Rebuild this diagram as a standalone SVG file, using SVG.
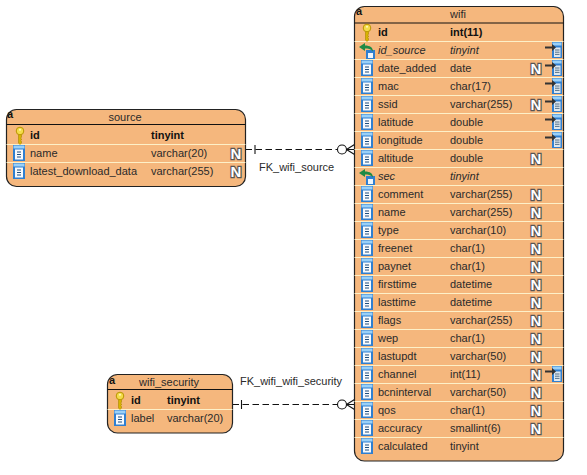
<svg xmlns="http://www.w3.org/2000/svg" width="587" height="475" viewBox="0 0 587 475">
<style>
text{font-family:"Liberation Sans",Arial,sans-serif;font-size:11px;fill:#2a2a2a}
.b{font-weight:bold;fill:#111}
.i{font-style:italic}
.t{text-anchor:middle}
.box{fill:#f5b77d;stroke:#222;stroke-width:1.2}
.hl{stroke:#111;stroke-width:1;fill:none}
.sep{stroke:#fdf0c8;stroke-width:1;fill:none}
.con{stroke:#111;stroke-width:1.1;fill:none}
.dash{stroke-dasharray:6.500 3.500}
.a{font-size:11px;font-weight:bold;fill:#111}
.nn{font-size:15px;font-weight:bold;fill:#fff;stroke:#555;stroke-width:2.400;paint-order:stroke;text-anchor:middle}
</style>
<defs>
<g id="col"><rect x="0" y="0" width="12" height="16" fill="#2f7fd0"/><rect x="0.500" y="0.500" width="11" height="3" fill="#9ad0f7"/><rect x="2" y="4.500" width="8" height="10" fill="#f7fafd"/><path d="M4 7h4M4 9.500h4M4 12h4" stroke="#1e4f80" stroke-width="1"/></g>
<g id="key"><path d="M3.500 7v9l1.500 1.500 1.500-1.500v-1.500l-1-.8 1-.8v-1l-1-.8 1-.8V7z" fill="#d9b400" stroke="#a88600" stroke-width=".6"/><circle cx="5" cy="4" r="3.800" fill="#f4dc4a" stroke="#b89500" stroke-width="1"/><circle cx="5" cy="2.800" r="1" fill="#fff8c0"/></g>
<g id="fk"><rect x="7" y="8" width="9" height="9" fill="#2f7fd0"/><rect x="9" y="11" width="5" height="5" fill="#eef5fb"/><path d="M6 1 0 5l6 4V6.500c3 0 6 .5 8 3 0-4-3-6-8-6z" fill="#1f8a45"/></g>
<g id="n"><text class="nn" x="6" y="12">N</text></g>
<g id="ref"><rect x="7" y="0" width="10" height="16" fill="#2f7fd0"/><rect x="7.500" y="0.500" width="9" height="3" fill="#9ad0f7"/><rect x="9" y="5.500" width="6.500" height="9.500" fill="#dfe8ef"/><path d="M10 8h4.500M10 10.200h4.500M10 12.400h4.500" stroke="#52708a"/><path d="M0 4.500h7V2l4 3.500-4 3.500V6.500H0z" fill="#333"/></g>
</defs>
<g id="connectors">
<g id="FK_wifi_source"><path class="con dash" d="M245.500 149.500H337.500"/><path class="con" d="M255 145v9"/><circle class="con" cx="342" cy="149.500" r="4.500"/><path class="con" d="M346.500 149.500 354.500 144.500M346.500 149.500H354.500M346.500 149.500 354.500 154.500"/><text x="259" y="171">FK_wifi_source</text></g>
<g id="FK_wifi_wifi_security"><path class="con dash" d="M232.500 404.500H337.500"/><path class="con" d="M241.500 400v9"/><circle class="con" cx="342" cy="404.500" r="4.500"/><path class="con" d="M346.500 404.500 354.500 399.500M346.500 404.500H354.500M346.500 404.500 354.500 409.500"/><text x="240" y="385">FK_wifi_wifi_security</text></g>
</g>
<g id="source">
<rect class="box" x="6.500" y="109.500" width="239" height="77" rx="10"/>
<path class="hl" d="M6.500 124.500H245.500"/><path class="sep" d="M6.500 144.500H245.500M6.500 162.500H245.500"/>
<text class="a" x="7" y="118">a</text><text class="t" x="125" y="121">source</text>
<use href="#key" x="15" y="127"/><text class="b" x="30" y="139">id</text><text class="b" x="151" y="139">tinyint</text>
<use href="#col" x="13" y="145"/><text x="30" y="157">name</text><text x="151" y="157">varchar(20)</text><use href="#n" x="230" y="147"/>
<use href="#col" x="13" y="163"/><text x="30" y="175">latest_download_data</text><text x="151" y="175">varchar(255)</text><use href="#n" x="230" y="165"/>
</g>
<g id="wifi_security">
<rect class="box" x="107.500" y="374.500" width="125" height="58.500" rx="10"/>
<path class="hl" d="M107.500 389.500H232.500"/><path class="sep" d="M107.500 409.500H232.500"/>
<text class="a" x="109" y="384">a</text><text class="t" x="169" y="386">wifi_security</text>
<use href="#key" x="115" y="392"/><text class="b" x="131" y="404">id</text><text class="b" x="167" y="404">tinyint</text>
<use href="#col" x="114" y="410"/><text x="131" y="422">label</text><text x="167" y="422">varchar(20)</text>
</g>
<g id="wifi">
<rect class="box" x="354.500" y="6.500" width="209" height="454.500" rx="10"/>
<path class="hl" d="M354.500 23H563.500"/>
<path class="sep" d="M354.500 41.500H563.500M354.500 59.500H563.500M354.500 77.500H563.500M354.500 95.500H563.500M354.500 113.500H563.500M354.500 131.500H563.500M354.500 149.500H563.500M354.500 167.500H563.500M354.500 185.500H563.500M354.500 203.500H563.500M354.500 221.500H563.500M354.500 239.500H563.500M354.500 257.500H563.500M354.500 275.500H563.500M354.500 293.500H563.500M354.500 311.500H563.500M354.500 329.500H563.500M354.500 347.500H563.500M354.500 365.500H563.500M354.500 383.500H563.500M354.500 401.500H563.500M354.500 419.500H563.500M354.500 437.500H563.500"/>
<text class="a" x="356" y="15">a</text><text class="t" x="458" y="18">wifi</text>
<use href="#key" x="362" y="24"/><text class="b" x="378" y="36">id</text><text class="b" x="450" y="36">int(11)</text>
<use href="#fk" x="359" y="42"/><text class="i" x="378" y="54">id_source</text><text class="i" x="450" y="54">tinyint</text><use href="#ref" x="545" y="42"/>
<use href="#col" x="361" y="60"/><text x="378" y="72">date_added</text><text x="450" y="72">date</text><use href="#n" x="530" y="62"/><use href="#ref" x="545" y="60"/>
<use href="#col" x="361" y="78"/><text x="378" y="90">mac</text><text x="450" y="90">char(17)</text><use href="#ref" x="545" y="78"/>
<use href="#col" x="361" y="96"/><text x="378" y="108">ssid</text><text x="450" y="108">varchar(255)</text><use href="#n" x="530" y="98"/><use href="#ref" x="545" y="96"/>
<use href="#col" x="361" y="114"/><text x="378" y="126">latitude</text><text x="450" y="126">double</text><use href="#ref" x="545" y="114"/>
<use href="#col" x="361" y="132"/><text x="378" y="144">longitude</text><text x="450" y="144">double</text><use href="#ref" x="545" y="132"/>
<use href="#col" x="361" y="150"/><text x="378" y="162">altitude</text><text x="450" y="162">double</text><use href="#n" x="530" y="152"/>
<use href="#fk" x="359" y="168"/><text class="i" x="378" y="180">sec</text><text class="i" x="450" y="180">tinyint</text>
<use href="#col" x="361" y="186"/><text x="378" y="198">comment</text><text x="450" y="198">varchar(255)</text><use href="#n" x="530" y="188"/>
<use href="#col" x="361" y="204"/><text x="378" y="216">name</text><text x="450" y="216">varchar(255)</text><use href="#n" x="530" y="206"/>
<use href="#col" x="361" y="222"/><text x="378" y="234">type</text><text x="450" y="234">varchar(10)</text><use href="#n" x="530" y="224"/>
<use href="#col" x="361" y="240"/><text x="378" y="252">freenet</text><text x="450" y="252">char(1)</text><use href="#n" x="530" y="242"/>
<use href="#col" x="361" y="258"/><text x="378" y="270">paynet</text><text x="450" y="270">char(1)</text><use href="#n" x="530" y="260"/>
<use href="#col" x="361" y="276"/><text x="378" y="288">firsttime</text><text x="450" y="288">datetime</text><use href="#n" x="530" y="278"/>
<use href="#col" x="361" y="294"/><text x="378" y="306">lasttime</text><text x="450" y="306">datetime</text><use href="#n" x="530" y="296"/>
<use href="#col" x="361" y="312"/><text x="378" y="324">flags</text><text x="450" y="324">varchar(255)</text><use href="#n" x="530" y="314"/>
<use href="#col" x="361" y="330"/><text x="378" y="342">wep</text><text x="450" y="342">char(1)</text><use href="#n" x="530" y="332"/>
<use href="#col" x="361" y="348"/><text x="378" y="360">lastupdt</text><text x="450" y="360">varchar(50)</text><use href="#n" x="530" y="350"/>
<use href="#col" x="361" y="366"/><text x="378" y="378">channel</text><text x="450" y="378">int(11)</text><use href="#n" x="530" y="368"/><use href="#ref" x="545" y="366"/>
<use href="#col" x="361" y="384"/><text x="378" y="396">bcninterval</text><text x="450" y="396">varchar(50)</text><use href="#n" x="530" y="386"/>
<use href="#col" x="361" y="402"/><text x="378" y="414">qos</text><text x="450" y="414">char(1)</text><use href="#n" x="530" y="404"/>
<use href="#col" x="361" y="420"/><text x="378" y="432">accuracy</text><text x="450" y="432">smallint(6)</text><use href="#n" x="530" y="422"/>
<use href="#col" x="361" y="438"/><text x="378" y="450">calculated</text><text x="450" y="450">tinyint</text>
</g>
</svg>
